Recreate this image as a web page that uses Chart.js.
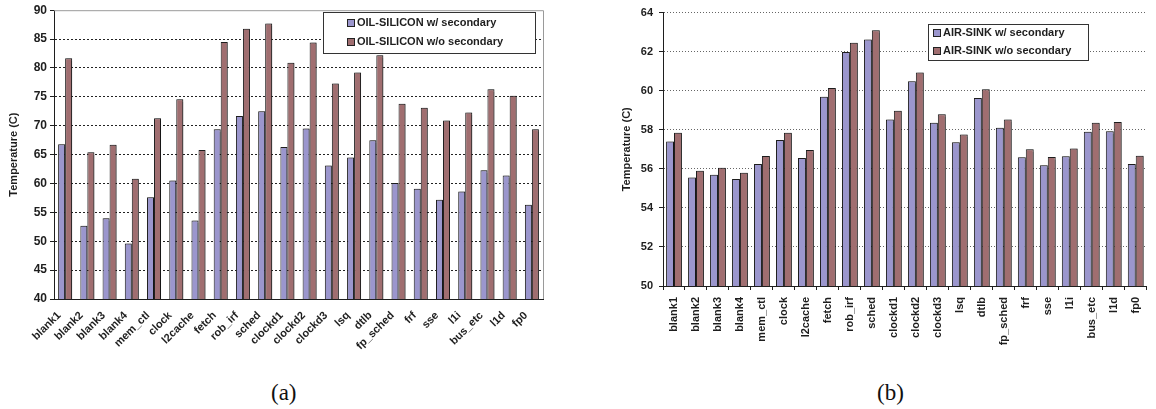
<!DOCTYPE html>
<html>
<head>
<meta charset="utf-8">
<script src="https://cdn.jsdelivr.net/npm/chart.js@4/dist/chart.umd.min.js"></script>
<style>
  body { margin: 0; background: #fff; width: 1156px; height: 409px; position: relative; overflow: hidden; }
  .box { position: absolute; }
  .cap { position: absolute; font-family: "Liberation Serif", "Times New Roman", serif; font-size: 23px; color: #111; line-height: 1; }
</style>
</head>
<body>
<div class="box" style="left:0;top:0;width:560px;height:360px"><canvas id="chartA"></canvas></div>
<div class="box" style="left:615px;top:0;width:541px;height:360px"><canvas id="chartB"></canvas></div>
<div class="cap" style="left:271px;top:381px">(a)</div>
<div class="cap" style="left:877px;top:381px">(b)</div>
<script>
// units, as on the floorplan
const units = ["blank1", "blank2", "blank3", "blank4", "mem_ctl", "clock", "l2cache", "fetch",
  "rob_irf", "sched", "clockd1", "clockd2", "clockd3", "lsq", "dtlb", "fp_sched", "frf", "sse",
  "l1i", "bus_etc", "l1d", "fp0"];

// (a) oil + silicon
const oilWith = [66.8, 52.7, 54.0, 49.6, 57.6, 60.5, 53.6, 69.4, 71.7, 72.5, 66.3, 69.5, 63.1,
  64.5, 67.5, 60.1, 59.1, 57.2, 58.6, 62.3, 61.4, 56.3];
const oilWithout = [81.7, 65.4, 66.7, 60.8, 71.3, 74.6, 65.8, 84.5, 86.8, 87.7, 80.9, 84.4, 77.3,
  79.2, 82.2, 73.8, 73.1, 70.9, 72.3, 76.3, 75.2, 69.4];

// (b) air + heat sink
const airWith = [57.40, 55.56, 55.70, 55.48, 56.25, 57.47, 56.56, 59.69, 61.98, 62.62, 58.53, 60.48,
  58.36, 57.36, 59.63, 58.10, 56.59, 56.18, 56.64, 57.90, 57.93, 56.25];
const airWithout = [57.85, 55.90, 56.05, 55.80, 56.66, 57.85, 56.96, 60.14, 62.45, 63.10, 58.98, 60.93,
  58.80, 57.76, 60.07, 58.53, 57.00, 56.60, 57.04, 58.36, 58.40, 56.67];

const yRangeA = [40, 90, 5];
const yRangeB = [50, 64, 2];
</script>
<script>
const FONT = '"Liberation Sans", Arial, sans-serif';
const BLUE = '#9b96cd';
const RED = '#a06e70';
const INK = '#1e1e1e';

Chart.defaults.font.family = FONT;
Chart.defaults.color = INK;

// legend in a framed box inside the plot
const boxLegend = {
  id: 'boxLegend',
  afterDraw(chart, args, o) {
    const ctx = chart.ctx;
    ctx.save();
    ctx.fillStyle = '#fff';
    ctx.fillRect(o.x, o.y, o.w, o.h);
    ctx.strokeStyle = '#333';
    ctx.lineWidth = 1;
    ctx.strokeRect(o.x + 0.5, o.y + 0.5, o.w, o.h);
    ctx.font = 'bold ' + o.size + 'px ' + FONT;
    ctx.textBaseline = 'middle';
    chart.data.datasets.forEach((ds, i) => {
      const cy = o.rows[i];
      ctx.fillStyle = ds.backgroundColor;
      ctx.fillRect(o.markX, cy - 4, 8, 8);
      ctx.strokeStyle = '#222';
      ctx.strokeRect(o.markX + 0.5, cy - 3.5, 7, 7);
      ctx.fillStyle = INK;
      ctx.fillText(ds.label, o.textX, cy);
    });
    ctx.restore();
  }
};

// soft shadow on the bars + grey frame on the top/right of the plot
const barShadow = {
  id: 'barShadow',
  beforeDatasetsDraw(chart) {
    const ctx = chart.ctx;
    ctx.save();
    ctx.shadowColor = 'rgba(0,0,0,0.35)';
    ctx.shadowOffsetX = 1.5;
    ctx.shadowOffsetY = 0;
    ctx.shadowBlur = 1;
  },
  afterDatasetsDraw(chart, args, o) {
    chart.ctx.restore();
    if (!o.frame) return;
    const { left, right, top, bottom } = chart.chartArea;
    const ctx = chart.ctx;
    ctx.save();
    ctx.strokeStyle = '#9a9a9a';
    ctx.lineWidth = 1;
    ctx.beginPath();
    ctx.moveTo(left, top + 0.5);
    ctx.lineTo(right + 0.5, top + 0.5);
    ctx.lineTo(right + 0.5, bottom);
    ctx.stroke();
    ctx.restore();
  }
};

function makeChart(id, cfg) {
  return new Chart(document.getElementById(id), {
    type: 'bar',
    data: {
      labels: units,
      datasets: [
        { label: cfg.names[0], data: cfg.series[0], backgroundColor: BLUE, borderColor: INK, borderWidth: 1 },
        { label: cfg.names[1], data: cfg.series[1], backgroundColor: RED, borderColor: INK, borderWidth: 1 }
      ]
    },
    plugins: [barShadow, boxLegend],
    options: {
      responsive: true,
      maintainAspectRatio: false,
      animation: false,
      events: [],
      layout: { padding: cfg.padding },
      datasets: { bar: { categoryPercentage: cfg.catPct, barPercentage: 1 } },
      plugins: {
        legend: { display: false },
        tooltip: { enabled: false },
        boxLegend: cfg.legend,
        barShadow: { frame: cfg.frame }
      },
      scales: {
        x: {
          grid: {
            drawOnChartArea: false,
            drawTicks: cfg.xTicks,
            tickLength: 4,
            tickColor: INK
          },
          border: { color: INK, width: 1 },
          ticks: {
            autoSkip: false,
            maxRotation: cfg.rot,
            minRotation: cfg.rot,
            padding: cfg.xPad,
            labelOffset: cfg.xShift,
            color: INK,
            font: { size: 11, weight: 'bold' }
          },
          afterFit: s => { s.height = cfg.xHeight; }
        },
        y: {
          min: cfg.yRange[0],
          max: cfg.yRange[1],
          ticks: {
            stepSize: cfg.yRange[2],
            padding: cfg.yPad,
            color: INK,
            font: { size: cfg.yFont, weight: 'bold' }
          },
          grid: {
            color: c => (cfg.frame && c.tick && c.tick.value === cfg.yRange[1]) ? 'rgba(0,0,0,0)' : cfg.gridColor,
            tickColor: INK,
            tickLength: 4,
            lineWidth: 1
          },
          border: { color: INK, width: 1, dash: cfg.dash },
          title: {
            display: true,
            text: 'Temperature (C)',
            color: INK,
            font: { size: 11, weight: 'bold' },
            padding: { top: cfg.titlePad, bottom: 0 }
          },
          afterFit: s => { s.width = cfg.yWidth; }
        }
      }
    }
  });
}

makeChart('chartA', {
  names: ['OIL-SILICON w/ secondary', 'OIL-SILICON w/o secondary'],
  series: [oilWith, oilWithout],
  yRange: yRangeA,
  padding: { top: 10, right: 17, left: 0, bottom: 0 },
  catPct: 0.63,
  frame: true,
  xTicks: false,
  rot: 45,
  xPad: 10,
  xShift: -6,
  xHeight: 61,
  yPad: 3,
  yFont: 12,
  yWidth: 54,
  titlePad: 7,
  gridColor: '#222',
  dash: [2, 2],
  legend: { x: 323, y: 12, w: 212, h: 41, rows: [23, 42], markX: 347, textX: 357, size: 11 }
});

makeChart('chartB', {
  names: ['AIR-SINK w/ secondary', 'AIR-SINK w/o secondary'],
  series: [airWith, airWithout],
  yRange: yRangeB,
  padding: { top: 9, right: 3, left: 0, bottom: 0 },
  catPct: 0.72,
  frame: false,
  xTicks: true,
  rot: 90,
  xPad: 7,
  xShift: 0,
  xHeight: 74,
  yPad: 6,
  yFont: 11,
  yWidth: 48,
  titlePad: 5,
  gridColor: '#666',
  dash: [1, 2],
  legend: { x: 313, y: 24, w: 160, h: 36, rows: [33, 51], markX: 318, textX: 328, size: 11 }
});
</script>
</body>
</html>
